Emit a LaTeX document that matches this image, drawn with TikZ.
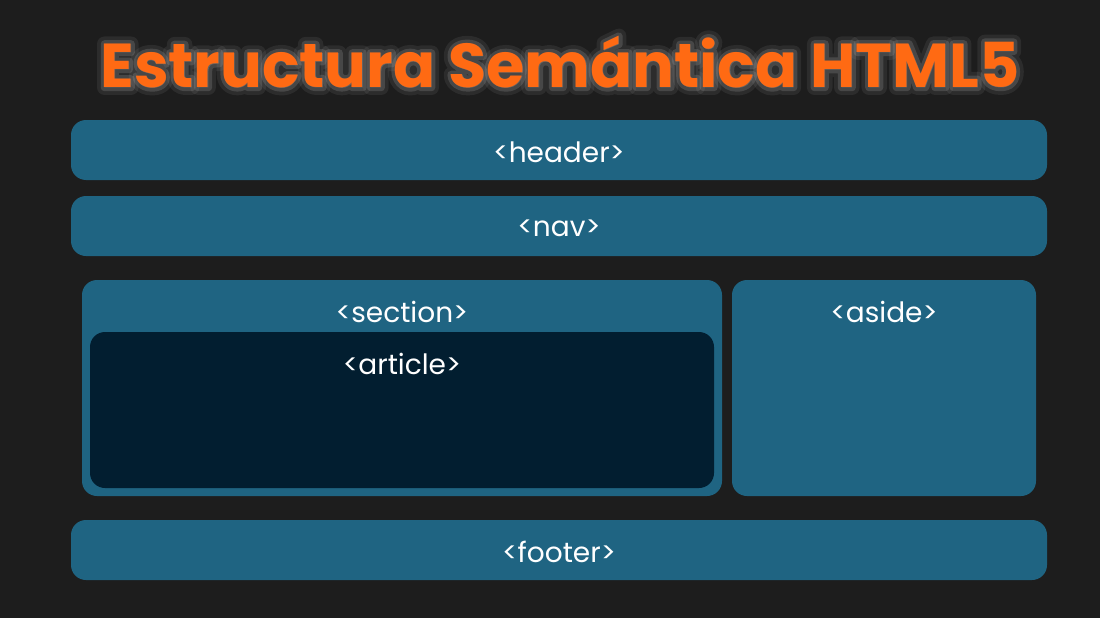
\documentclass[tikz,border=0pt]{standalone}
\usepackage{fontspec}
\setmainfont{Poppins}
\newfontfamily\glowfont{Poppins}[RawFeature={embolden=12},BoldFeatures={RawFeature={embolden=12}}]
\newfontfamily\glowwidefont{Poppins}[RawFeature={embolden=24},BoldFeatures={RawFeature={embolden=24}}]
\definecolor{bg}{HTML}{1D1D1D}
\definecolor{boxc}{HTML}{1F6482}
\definecolor{artc}{HTML}{021E30}
\definecolor{titlec}{HTML}{FF6A13}
\definecolor{glowc}{HTML}{9A9A9A}
\tikzset{
  x=1pt,y=-1pt,
  blockbox/.style={fill=boxc,rounded corners=15pt},
  innerbox/.style={fill=artc,rounded corners=15pt},
  lbl/.style={text=white,font=\fontsize{28}{30}\selectfont,inner sep=0pt,anchor=center},
  titlestyle/.style={text=titlec,font=\fontsize{62}{68}\selectfont\bfseries,inner sep=0pt},
  glow/.style={text=glowc,text opacity=0.25,line join=round,miter limit=1,font=\glowfont\fontsize{62}{68}\selectfont\bfseries,inner sep=0pt},
  glowwide/.style={text=glowc,text opacity=0.12,line join=round,miter limit=1,font=\glowwidefont\fontsize{62}{68}\selectfont\bfseries,inner sep=0pt},
}
\begin{document}
\begin{tikzpicture}
\fill[bg] (0,0) rectangle (1100,618);
\useasboundingbox (0,0) rectangle (1100,618);
% title with glow
\begin{scope}[line join=round,miter limit=1]
\node[glowwide] (titleglowwide) at (560,62) {Estructura Semántica HTML5};
\node[glow] (titleglow) at (560,62) {Estructura Semántica HTML5};
\end{scope}
\node[titlestyle] (title) at (560,62) {Estructura Semántica HTML5};
% boxes
\fill[blockbox] (71,120) rectangle (1047,180);
\node[lbl] (header) at (559,152) {<header>};
\fill[blockbox] (71,196) rectangle (1047,256);
\node[lbl] (nav) at (559,228) {<nav>};
\fill[blockbox] (82,280) rectangle (722,496);
\node[lbl] (section) at (402,312) {<section>};
\fill[innerbox] (90,332) rectangle (714,488);
\node[lbl] (article) at (402,364) {<article>};
\fill[blockbox] (732,280) rectangle (1036,496);
\node[lbl] (aside) at (884,312) {<aside>};
\fill[blockbox] (71,520) rectangle (1047,580);
\node[lbl] (footer) at (559,552) {<footer>};
\end{tikzpicture}
\end{document}
